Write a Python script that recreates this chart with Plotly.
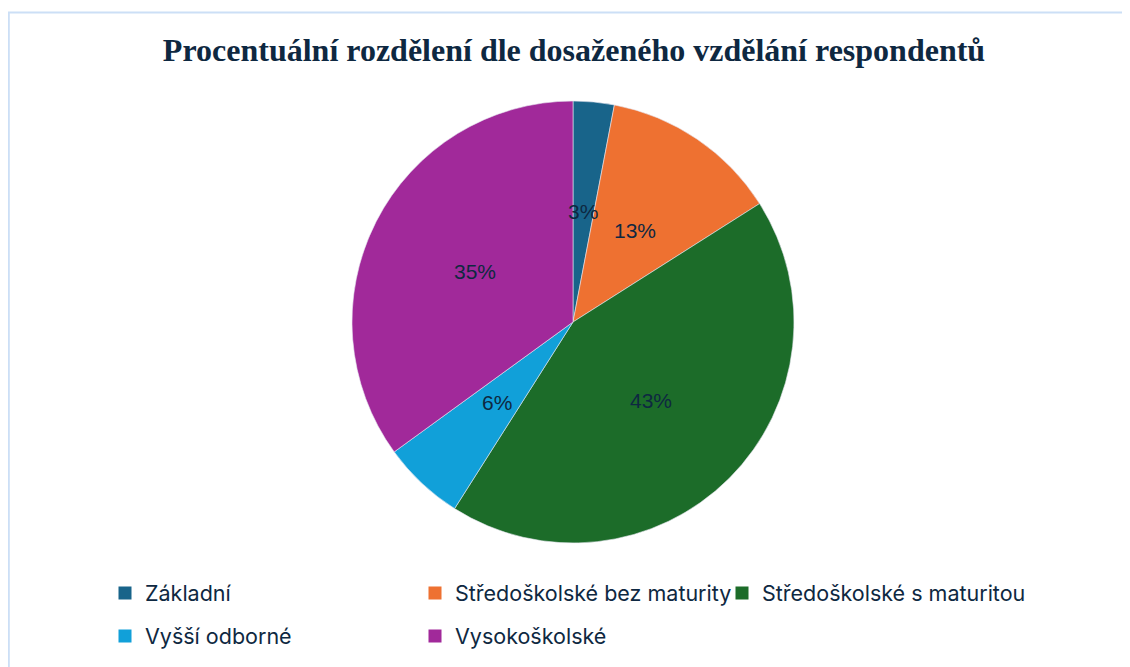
import math
import plotly.graph_objects as go

W, H = 1130, 667
OFF = 8  # the page body margin shifts the figure by 8px

labels = ["Základní", "Středoškolské bez maturity", "Středoškolské s maturitou",
          "Vyšší odborné", "Vysokoškolské"]
values = [3, 13, 43, 6, 35]
colors = ["#18648A", "#EE7131", "#1C6C29", "#11A0D9", "#A1299A"]


def px_x(p):
    return (p - OFF) / W


def px_y(p):
    return 1 - (p - OFF) / H


# pie geometry in page pixels
CX, CY, R = 573, 322, 221

fig = go.Figure()

fig.add_trace(go.Pie(
    labels=labels,
    values=values,
    sort=False,
    direction="clockwise",
    rotation=0,
    marker=dict(colors=colors, line=dict(color="#E6E6F0", width=0.6)),
    textinfo="none",
    domain=dict(x=[px_x(CX - R), px_x(CX + R)], y=[px_y(CY + R), px_y(CY - R)]),
    showlegend=False,
    hoverinfo="label+percent",
))

# percentage labels at half radius on each slice's mid angle (Excel style)
total = sum(values)
annotations = []
cum = 0
for v in values:
    mid = (cum + v / 2) / total * 2 * math.pi
    cum += v
    annotations.append(dict(
        x=px_x(CX + 0.5 * R * math.sin(mid)),
        y=px_y(CY - 0.5 * R * math.cos(mid)),
        xref="paper", yref="paper", showarrow=False,
        text=f"{round(v / total * 100)}%",
        font=dict(family="Liberation Sans, Arial", size=21, color="#0E2841"),
        xanchor="center", yanchor="middle",
    ))

# legend: one legend per entry so the grid matches the reference
legend_pos = [(104, 593), (414, 593), (721, 593), (104, 636), (414, 636)]
legend_font = dict(family="Inter, Open Sans", size=21.5, color="#0E2841")
layout_legends = {}
for i, (lab, col, (lx, ly)) in enumerate(zip(labels, colors, legend_pos)):
    name = "legend" if i == 0 else f"legend{i + 1}"
    fig.add_trace(go.Scatter(
        x=[None], y=[None], mode="markers", name=lab,
        marker=dict(symbol="square", size=13, color=col),
        legend=name, showlegend=True,
    ))
    layout_legends[name] = dict(
        orientation="h", xanchor="left", yanchor="middle",
        x=(lx - 7) / W, y=px_y(ly),
        font=legend_font, bgcolor="rgba(0,0,0,0)", itemclick=False,
    )

fig.update_layout(
    width=W, height=H,
    margin=dict(l=0, r=0, t=0, b=0),
    paper_bgcolor="white",
    plot_bgcolor="white",
    xaxis=dict(visible=False),
    yaxis=dict(visible=False),
    title=dict(
        text="<b>Procentuální rozdělení dle dosaženého vzdělání respondentů</b>",
        x=px_x(574), xanchor="center",
        y=px_y(50), yanchor="middle",
        font=dict(family="Liberation Serif, Times New Roman", size=32, color="#0E2841"),
    ),
    annotations=annotations,
    shapes=[dict(
        type="rect", xref="paper", yref="paper",
        x0=0.8 / W, x1=1.05, y0=-0.05, y1=px_y(12.5),
        line=dict(color="#CCDFF6", width=2),
        fillcolor="rgba(0,0,0,0)",
    )],
    **layout_legends,
)

fig.write_html("out.html")
